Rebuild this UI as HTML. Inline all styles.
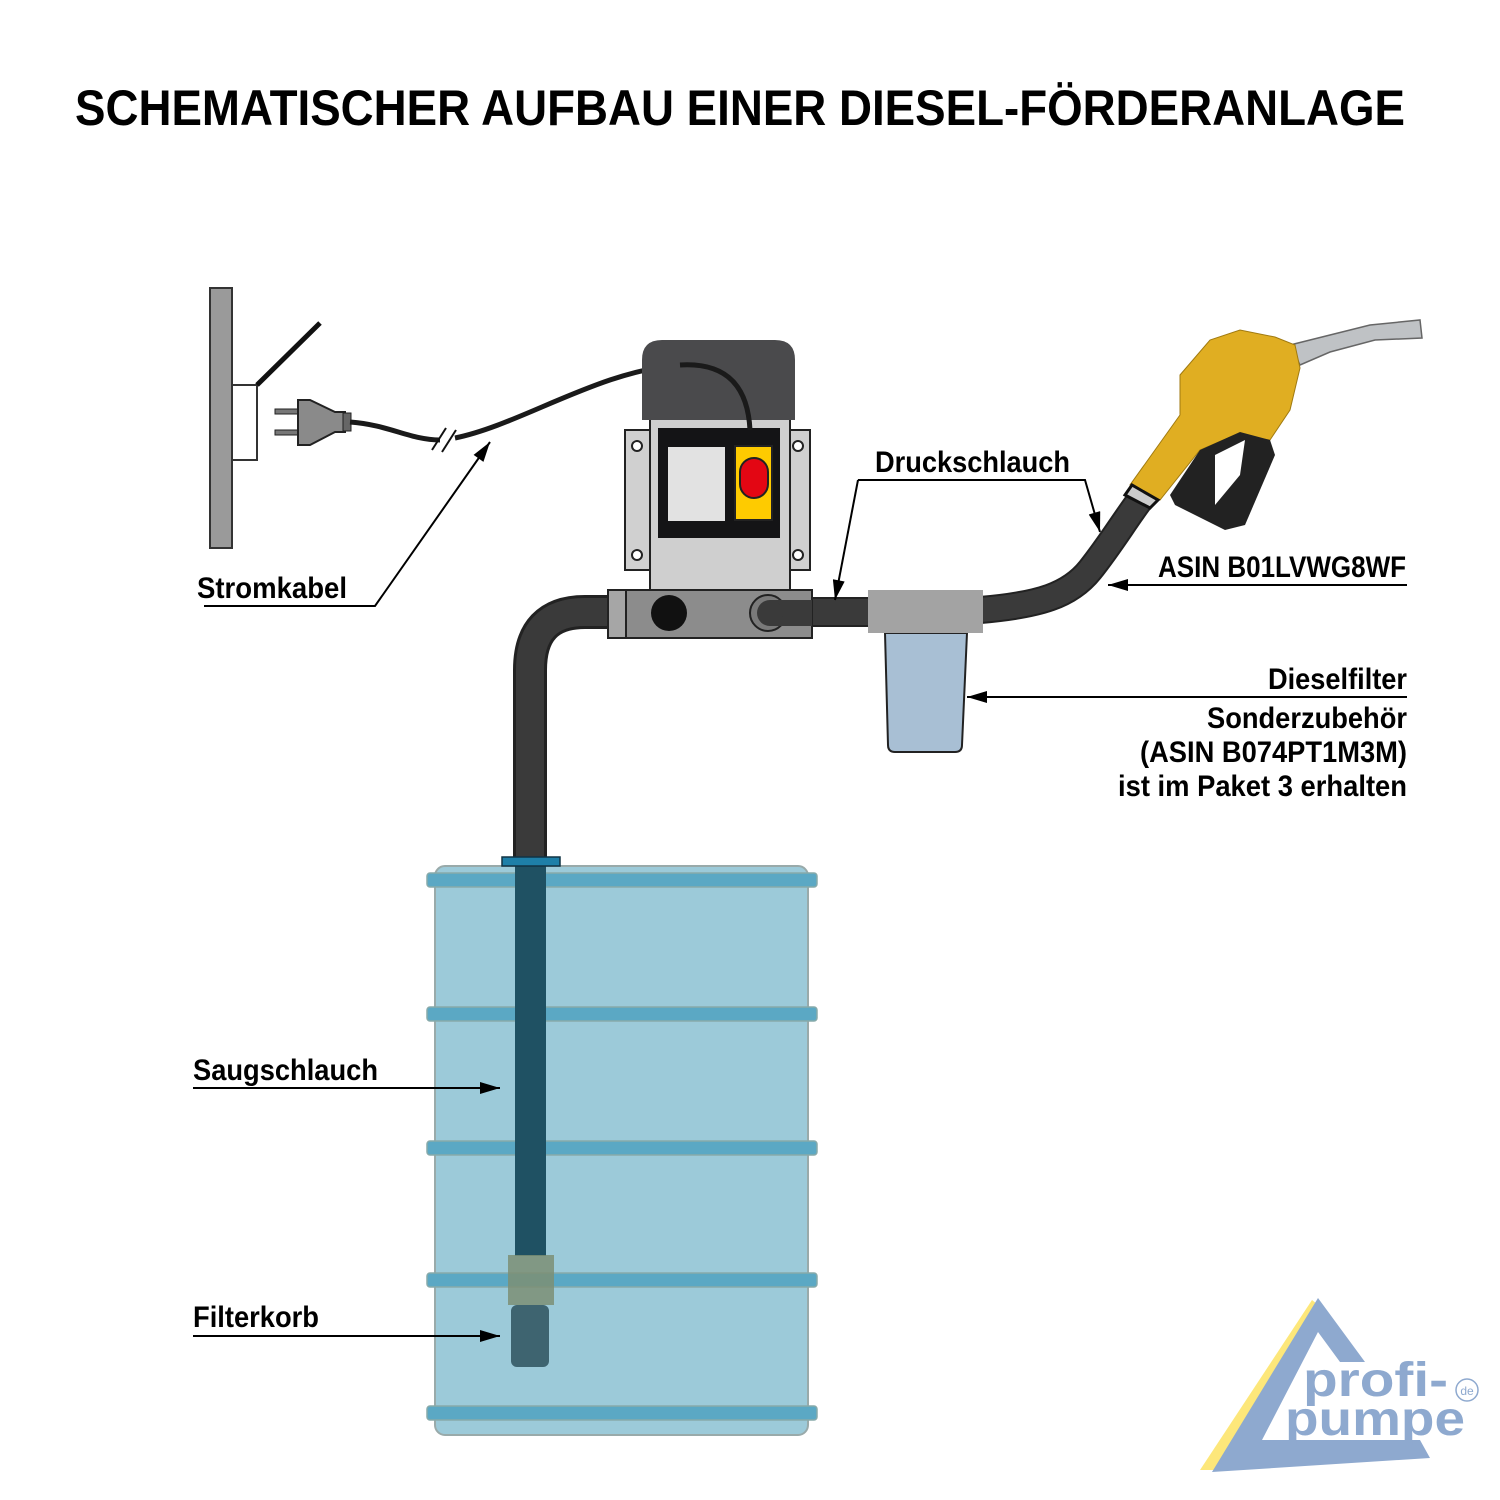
<!DOCTYPE html>
<html><head><meta charset="utf-8"><style>html,body{margin:0;padding:0;background:#fff}svg{display:block}</style></head><body>
<svg width="1500" height="1500" viewBox="0 0 1500 1500" xmlns="http://www.w3.org/2000/svg" font-family="Liberation Sans, Arial, sans-serif" font-weight="bold">
<defs>
<marker id="a2" viewBox="0 0 20 12" markerWidth="22" markerHeight="12" refX="20" refY="6" orient="auto" markerUnits="userSpaceOnUse"><path d="M0,0 L20,6 L0,12 Z" fill="#000"/></marker></defs>
<text x="75" y="125" font-size="50" textLength="1330" lengthAdjust="spacingAndGlyphs">SCHEMATISCHER AUFBAU EINER DIESEL-FÖRDERANLAGE</text>

<rect x="210" y="288" width="22" height="260" fill="#9a9a9a" stroke="#333" stroke-width="2"/>
<rect x="232" y="385" width="25" height="75" fill="#fff" stroke="#333" stroke-width="2"/>
<line x1="257" y1="385" x2="320" y2="323" stroke="#111" stroke-width="5"/>
<rect x="275" y="409" width="25" height="5" fill="#777" stroke="#222"/>
<rect x="275" y="430" width="25" height="5" fill="#777" stroke="#222"/>
<path d="M298,400 L310,400 L335,412 L345,412 L345,432 L335,432 L310,445 L298,445 Z" fill="#8a8a8a" stroke="#222" stroke-width="2"/>
<rect x="343" y="413" width="8" height="18" fill="#666" stroke="#222"/>
<path d="M350,422 C390,425 410,440 440,440" fill="none" stroke="#1a1a1a" stroke-width="5"/>
<path d="M455,438 C520,425 600,370 680,365 C730,362 748,390 750,430" fill="none" stroke="#1a1a1a" stroke-width="5"/>
<line x1="432" y1="450" x2="446" y2="428" stroke="#111" stroke-width="2"/>
<line x1="442" y1="452" x2="456" y2="430" stroke="#111" stroke-width="2"/>

<path d="M612,612 L585,612 Q530,612 530,670 L530,862" fill="none" stroke="#222" stroke-width="34"/>
<path d="M612,612 L585,612 Q530,612 530,670 L530,862" fill="none" stroke="#3a3a3a" stroke-width="28"/>
<path d="M770,612 L870,612" stroke="#222" stroke-width="30"/>
<path d="M770,612 L870,612" stroke="#3a3a3a" stroke-width="26"/>
<path d="M980,610 C1040,605 1070,595 1090,570 C1110,545 1125,520 1140,500" fill="none" stroke="#222" stroke-width="28"/>
<path d="M980,610 C1040,605 1070,595 1090,570 C1110,545 1125,520 1140,500" fill="none" stroke="#3a3a3a" stroke-width="24"/>

<rect x="625" y="430" width="28" height="140" fill="#d0d0d0" stroke="#222" stroke-width="2"/>
<rect x="788" y="430" width="22" height="140" fill="#d0d0d0" stroke="#222" stroke-width="2"/>
<circle cx="637" cy="446" r="5" fill="#fff" stroke="#222" stroke-width="2"/>
<circle cx="637" cy="555" r="5" fill="#fff" stroke="#222" stroke-width="2"/>
<circle cx="798" cy="446" r="5" fill="#fff" stroke="#222" stroke-width="2"/>
<circle cx="798" cy="555" r="5" fill="#fff" stroke="#222" stroke-width="2"/>
<rect x="650" y="418" width="140" height="174" fill="#cfcfcf" stroke="#222" stroke-width="2"/>
<rect x="658" y="428" width="122" height="110" fill="#141416"/>
<rect x="668" y="447" width="57" height="74" fill="#e2e2e2"/>
<rect x="735" y="446" width="37" height="74" fill="#fecb00" stroke="#222" stroke-width="2"/>
<rect x="740" y="458" width="28" height="40" rx="14" fill="#e30613" stroke="#222" stroke-width="2"/>
<path d="M642,420 L642,360 Q642,340 662,340 L775,340 Q795,340 795,360 L795,420 Z" fill="#4a4a4c"/>
<path d="M680,365 C730,362 748,390 750,430" fill="none" stroke="#1a1a1a" stroke-width="5"/>
<rect x="608" y="590" width="204" height="48" fill="#8c8c8c" stroke="#222" stroke-width="2"/>
<rect x="608" y="590" width="18" height="48" fill="#a6a6a6" stroke="#222" stroke-width="2"/>
<circle cx="669" cy="613" r="18" fill="#111"/>
<circle cx="768" cy="613" r="18" fill="#7a7a7a" stroke="#222" stroke-width="2"/>
<path d="M770,600 L812,600 L812,626 L770,626 Z" fill="#3a3a3a"/>
<circle cx="770" cy="613" r="13" fill="#3a3a3a"/>

<path d="M885,633 L967,633 L962,745 Q962,752 955,752 L895,752 Q888,752 888,745 Z" fill="#a8bfd4" stroke="#222" stroke-width="2"/>
<rect x="868" y="590" width="115" height="43" fill="#a3a3a3"/>

<path d="M1290,345 L1330,335 L1370,325 L1420,320 L1422,338 L1375,340 L1330,352 L1300,365 Z" fill="#bfc2c5" stroke="#666" stroke-width="1.5"/>
<path d="M1180,375 L1210,340 L1240,330 L1275,337 L1295,345 L1300,368 L1290,410 L1270,440 L1235,435 L1200,450 L1160,500 L1130,485 L1180,415 Z" fill="#e0ae22" stroke="#a07a10" stroke-width="1"/>
<path d="M1170,495 L1200,450 L1240,432 L1270,440 L1275,455 L1245,525 L1225,530 L1175,505 Z" fill="#222"/>
<path d="M1215,455 L1245,440 L1240,475 L1215,505 Z" fill="#fff"/>
<path d="M1125,495 L1150,508 L1158,500 L1132,485 Z" fill="#ccc" stroke="#111" stroke-width="3"/>

<rect x="435" y="866" width="373" height="569" rx="10" fill="#9ccad9" stroke="#9aa" stroke-width="2"/>
<g fill="#5ba8c4" stroke="#8aa" stroke-width="1.5">
<rect x="427" y="873" width="390" height="14" rx="3"/><rect x="427" y="1007" width="390" height="14" rx="3"/>
<rect x="427" y="1141" width="390" height="14" rx="3"/><rect x="427" y="1273" width="390" height="14" rx="3"/>
<rect x="427" y="1406" width="390" height="14" rx="3"/></g>
<rect x="515" y="866" width="31" height="390" fill="#1f5163"/>
<rect x="502" y="857" width="58" height="9" fill="#1e7fa8" stroke="#134" stroke-width="1.5"/>
<rect x="508" y="1255" width="46" height="50" fill="#7d8f74" opacity="0.85"/>
<rect x="511" y="1305" width="38" height="62" rx="6" fill="#3e6470"/>

<g font-size="30">
<text x="197" y="598" textLength="150" lengthAdjust="spacingAndGlyphs">Stromkabel</text>
<text x="875" y="472" textLength="195" lengthAdjust="spacingAndGlyphs">Druckschlauch</text>
<text x="1158" y="577" textLength="248" lengthAdjust="spacingAndGlyphs">ASIN B01LVWG8WF</text>
<text x="1268" y="689" textLength="139" lengthAdjust="spacingAndGlyphs">Dieselfilter</text>
<text x="1207" y="728" textLength="200" lengthAdjust="spacingAndGlyphs">Sonderzubehör</text>
<text x="1140" y="762" textLength="267" lengthAdjust="spacingAndGlyphs">(ASIN B074PT1M3M)</text>
<text x="1118" y="796" textLength="289" lengthAdjust="spacingAndGlyphs">ist im Paket 3 erhalten</text>
<text x="193" y="1080" textLength="185" lengthAdjust="spacingAndGlyphs">Saugschlauch</text>
<text x="193" y="1327" textLength="126" lengthAdjust="spacingAndGlyphs">Filterkorb</text>
</g>
<g fill="none" stroke="#000" stroke-width="2">
<polyline points="204,606 375,606 490,442" marker-end="url(#a2)"/>
<polyline points="858,480 1085,480 1100,532" marker-end="url(#a2)"/>
<polyline points="858,480 835,600" marker-end="url(#a2)"/>
<line x1="1407" y1="585" x2="1108" y2="585" marker-end="url(#a2)"/>
<line x1="1407" y1="697" x2="967" y2="697" marker-end="url(#a2)"/>
<line x1="193" y1="1088" x2="500" y2="1088" marker-end="url(#a2)"/>
<line x1="193" y1="1336" x2="500" y2="1336" marker-end="url(#a2)"/>
</g>

<path d="M1200,1470 L1312,1300 L1325,1310 L1220,1470 Z" fill="#fde77a"/>
<path d="M1318,1298 L1365,1362 L1340,1362 L1318,1332 L1262,1440 L1420,1440 L1430,1458 L1212,1472 Z" fill="#8ea9cf"/>
<text x="1303" y="1396" font-size="48" fill="#8ea9cf" textLength="145" lengthAdjust="spacingAndGlyphs">profi-</text>
<text x="1285" y="1435" font-size="48" fill="#8ea9cf" textLength="180" lengthAdjust="spacingAndGlyphs">pumpe</text>
<circle cx="1467" cy="1390" r="11" fill="none" stroke="#8ea9cf" stroke-width="1.5"/>
<text x="1467" y="1395" font-size="12" font-weight="normal" fill="#8ea9cf" text-anchor="middle">de</text>
</svg>
</body></html>
